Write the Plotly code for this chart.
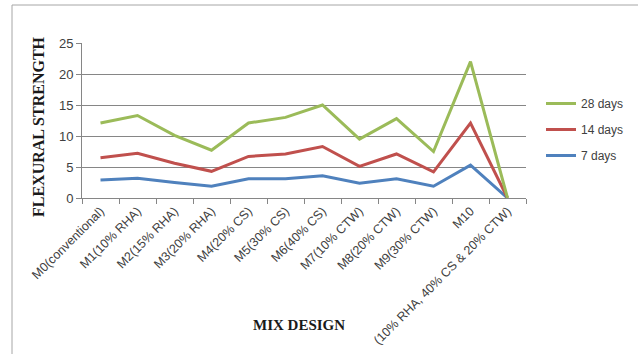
import plotly.graph_objects as go

categories = ["M0(conventional)", "M1(10% RHA)", "M2(15% RHA)", "M3(20% RHA)",
              "M4(20% CS)", "M5(30% CS)", "M6(40% CS)", "M7(10% CTW)",
              "M8(20% CTW)", "M9(30% CTW)", "M10", "(10% RHA, 40% CS & 20% CTW)"]
days28 = [12.1, 13.3, 10.1, 7.7, 12.1, 13.0, 15.0, 9.5, 12.8, 7.5, 22.0, 0]
days14 = [6.5, 7.2, 5.6, 4.3, 6.7, 7.1, 8.3, 5.1, 7.1, 4.2, 12.1, 0]
days7 = [2.9, 3.2, 2.5, 1.9, 3.1, 3.1, 3.6, 2.4, 3.1, 1.9, 5.3, 0]
yticks = [0, 5, 10, 15, 20, 25]

L, R, T, B = 82, 112, 43, 156
W, H = 638, 354
pw, ph = W - L - R, H - T - B

def px(x):
    return (x - L) / pw

def py(y):
    return (H - B - y) / ph

fig = go.Figure()
series = [("7 days", days7, "#4F81BD", 3), ("14 days", days14, "#C0504D", 2), ("28 days", days28, "#9BBB59", 1)]
for name, vals, col, rank in series:
    fig.add_trace(go.Scatter(x=categories, y=vals, name=name, mode="lines",
                             line=dict(color=col, width=3), legendgroup=name,
                             legendrank=rank))

fig.update_layout(
    width=W, height=H, margin=dict(l=L, r=R, t=T, b=B, autoexpand=False),
    paper_bgcolor="white", plot_bgcolor="white",
    font=dict(family="Liberation Sans, Arial, sans-serif", size=12, color="#404040"),
    showlegend=True,
    legend=dict(x=px(541), y=py(89), xanchor="left", yanchor="top",
                traceorder="grouped", tracegroupgap=7, itemwidth=30,
                font=dict(size=12, color="#404040"), bgcolor="rgba(0,0,0,0)"),
    xaxis=dict(type="category", range=[-0.5, 11.5], tickangle=-45, automargin=False,
               tickson="boundaries", ticks="outside", ticklen=5, tickcolor="#868686",
               showline=True, linecolor="#868686", linewidth=1, showgrid=False,
               tickfont=dict(size=12.5, color="#404040")),
    yaxis=dict(range=[0, 25], tickvals=yticks, ticks="outside", ticklen=5, automargin=False,
               tickcolor="#868686", showline=True, linecolor="#868686", linewidth=1,
               showgrid=True, gridcolor="#868686", gridwidth=1, zeroline=False,
               tickfont=dict(size=13, color="#404040")),
    annotations=[
        dict(text="FLEXURAL STRENGTH", xref="paper", yref="paper", x=px(38), y=py(127),
             textangle=-90, showarrow=False, xanchor="center", yanchor="middle",
             font=dict(family="Liberation Serif, serif", size=16, color="#1a1a1a", weight="bold")),
        dict(text="MIX DESIGN", xref="paper", yref="paper", x=px(299), y=py(325),
             showarrow=False, xanchor="center", yanchor="middle",
             font=dict(family="Liberation Serif, serif", size=15, color="#1a1a1a", weight="bold")),
    ],
    shapes=[
        dict(type="line", xref="paper", yref="paper", x0=px(12), x1=px(640), y0=py(5), y1=py(5),
             line=dict(color="#a6a6a6", width=1)),
        dict(type="line", xref="paper", yref="paper", x0=px(12), x1=px(12), y0=py(5), y1=py(360),
             line=dict(color="#a6a6a6", width=1)),
    ],
)

fig.write_html("out.html")
